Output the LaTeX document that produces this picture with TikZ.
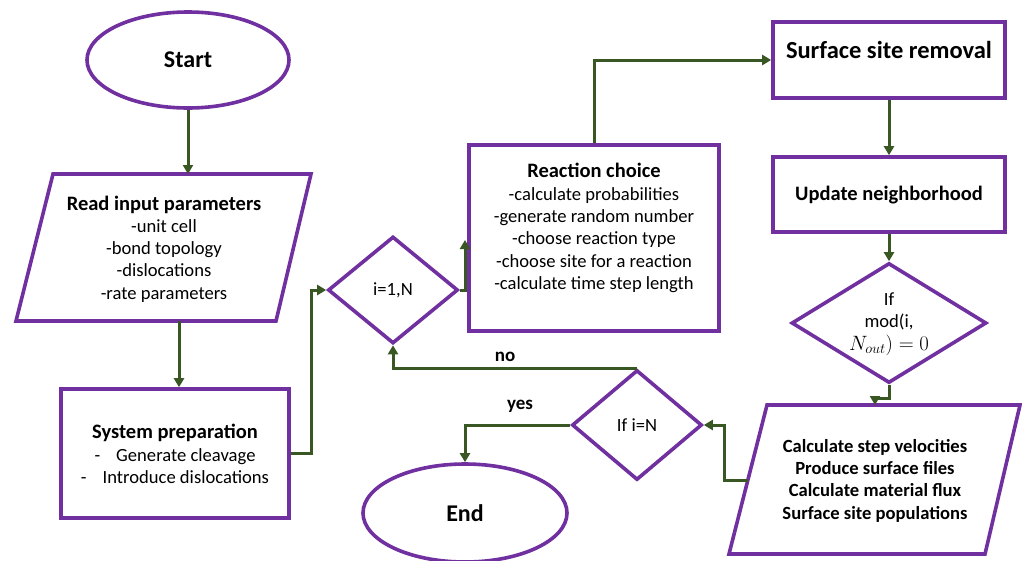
\documentclass[tikz,border=0pt]{standalone}
\usepackage{fontspec}
\setmainfont{Carlito}
\usetikzlibrary{shapes.geometric,arrows.meta}
\definecolor{pur}{HTML}{7030A0}
\definecolor{grn}{HTML}{385723}
\newcommand\myhead[1]{{\bfseries\fontsize{20.5}{22}\selectfont #1}}
\tikzset{
  outline/.style={draw=pur, line width=3.6pt},
  boxnode/.style={outline, rectangle, inner sep=0pt},
  ovalnode/.style={outline, ellipse, inner sep=0pt, font=\bfseries\fontsize{24}{28}\selectfont},
  dianode/.style={outline, diamond, inner sep=0pt},
  flow/.style={draw=grn, line width=3pt, -{Triangle[length=9pt,width=10pt]}},
  body/.style={font=\fontsize{18.6}{22.3}\selectfont, align=center, inner sep=0pt},
  boldbody/.style={font=\bfseries\fontsize{18.6}{22.3}\selectfont, align=center, inner sep=0pt},
  lbl/.style={font=\bfseries\fontsize{19}{22}\selectfont, inner sep=0pt}
}
\begin{document}
\begin{tikzpicture}[x=1pt,y=-1pt]
\useasboundingbox (0,0) rectangle (1022,560);

% Start
\node[ovalnode, minimum width=202pt, minimum height=96pt] (start) at (188,60) {Start};

% Read input parameters (parallelogram)
\draw[outline] (53,174) -- (311,174) -- (276,321) -- (16,321) -- cycle;
\coordinate (readtop) at (188,174);
\coordinate (readbot) at (179,321);
\node[body] (readtxt) at (164,249) {\myhead{Read input parameters}\\-unit cell\\-bond topology\\-dislocations\\-rate parameters};

% System preparation
\node[boxnode, minimum width=228pt, minimum height=129pt] (sys) at (175,453.5) {};
\node[body] (systxt) at (175,454) {\myhead{System preparation}\\-\hspace{16pt}Generate cleavage\\-\hspace{16pt}Introduce dislocations};

% Diamond i=1,N
\node[dianode, minimum width=130pt, minimum height=107pt] (dia1) at (393,290) {};
\node[body] (dia1txt) at (393,290) {i=1,N};

% Reaction choice
\node[boxnode, minimum width=250pt, minimum height=186pt] (rc) at (594,238) {};
\node[body] (rctxt) at (594,228) {\myhead{Reaction choice}\\-calculate probabilities\\-generate random number\\-choose reaction type\\-choose site for a reaction\\-calculate time step length};
\coordinate (rcin) at (465,240);

% Surface site removal
\node[boxnode, minimum width=232pt, minimum height=76pt] (ssr) at (889,60) {};
\node[font=\bfseries\fontsize{24.5}{28}\selectfont, inner sep=0pt] (ssrtxt) at (889,50) {Surface site removal};

% Update neighborhood
\node[boxnode, minimum width=232pt, minimum height=75pt] (un) at (889,194.5) {};
\node[font=\bfseries\fontsize{20.5}{24}\selectfont, inner sep=0pt] (untxt) at (889,195) {Update neighborhood};

% Diamond mod
\node[dianode, minimum width=195pt, minimum height=120pt] (dia2) at (889,323) {};
\node[body] (dia2txt) at (889,324) {If\\mod(i,\\{\fontsize{20}{22}\selectfont$N_{out}) = 0$}};

% Output parallelogram
\draw[outline] (767,405) -- (1020,405) -- (985,554) -- (729,554) -- cycle;
\coordinate (outtop) at (875,405);
\coordinate (outleft) at (748,480);
\node[boldbody] (outtxt) at (875,480.5) {Calculate step velocities\\Produce surface files\\Calculate material flux\\Surface site populations};

% Diamond If i=N
\node[dianode, minimum width=130pt, minimum height=110pt] (dia3) at (637,425) {};
\node[body] (dia3txt) at (637,425) {If i=N};

% End
\node[ovalnode, minimum width=204pt, minimum height=98pt] (end) at (465,513) {End};

% Connectors
\draw[flow] (start.south) -- (readtop);
\draw[flow] (readbot) -- (sys.north -| readbot);
\draw[flow] (sys.east) -- ++(21,0) |- (dia1.west);
\draw[flow] (dia1.east) -| (rcin);
\draw[flow] (rc.north) |- (ssr.west);
\draw[flow] (ssr.south) -- (un.north);
\draw[flow] (un.south) -- (dia2.north);
\draw[flow] (dia2.south) -- ++(0,14) -| (outtop);
\draw[flow] (outleft) -- ++(-24,0) |- (dia3.east);
\draw[flow] (dia3.north) -| (dia1.south);
\draw[flow] (dia3.west) -| (end.north);

% Labels
\node[lbl] (nolbl) at (505,357) {no};
\node[lbl] (yeslbl) at (520,406) {yes};
\end{tikzpicture}
\end{document}
